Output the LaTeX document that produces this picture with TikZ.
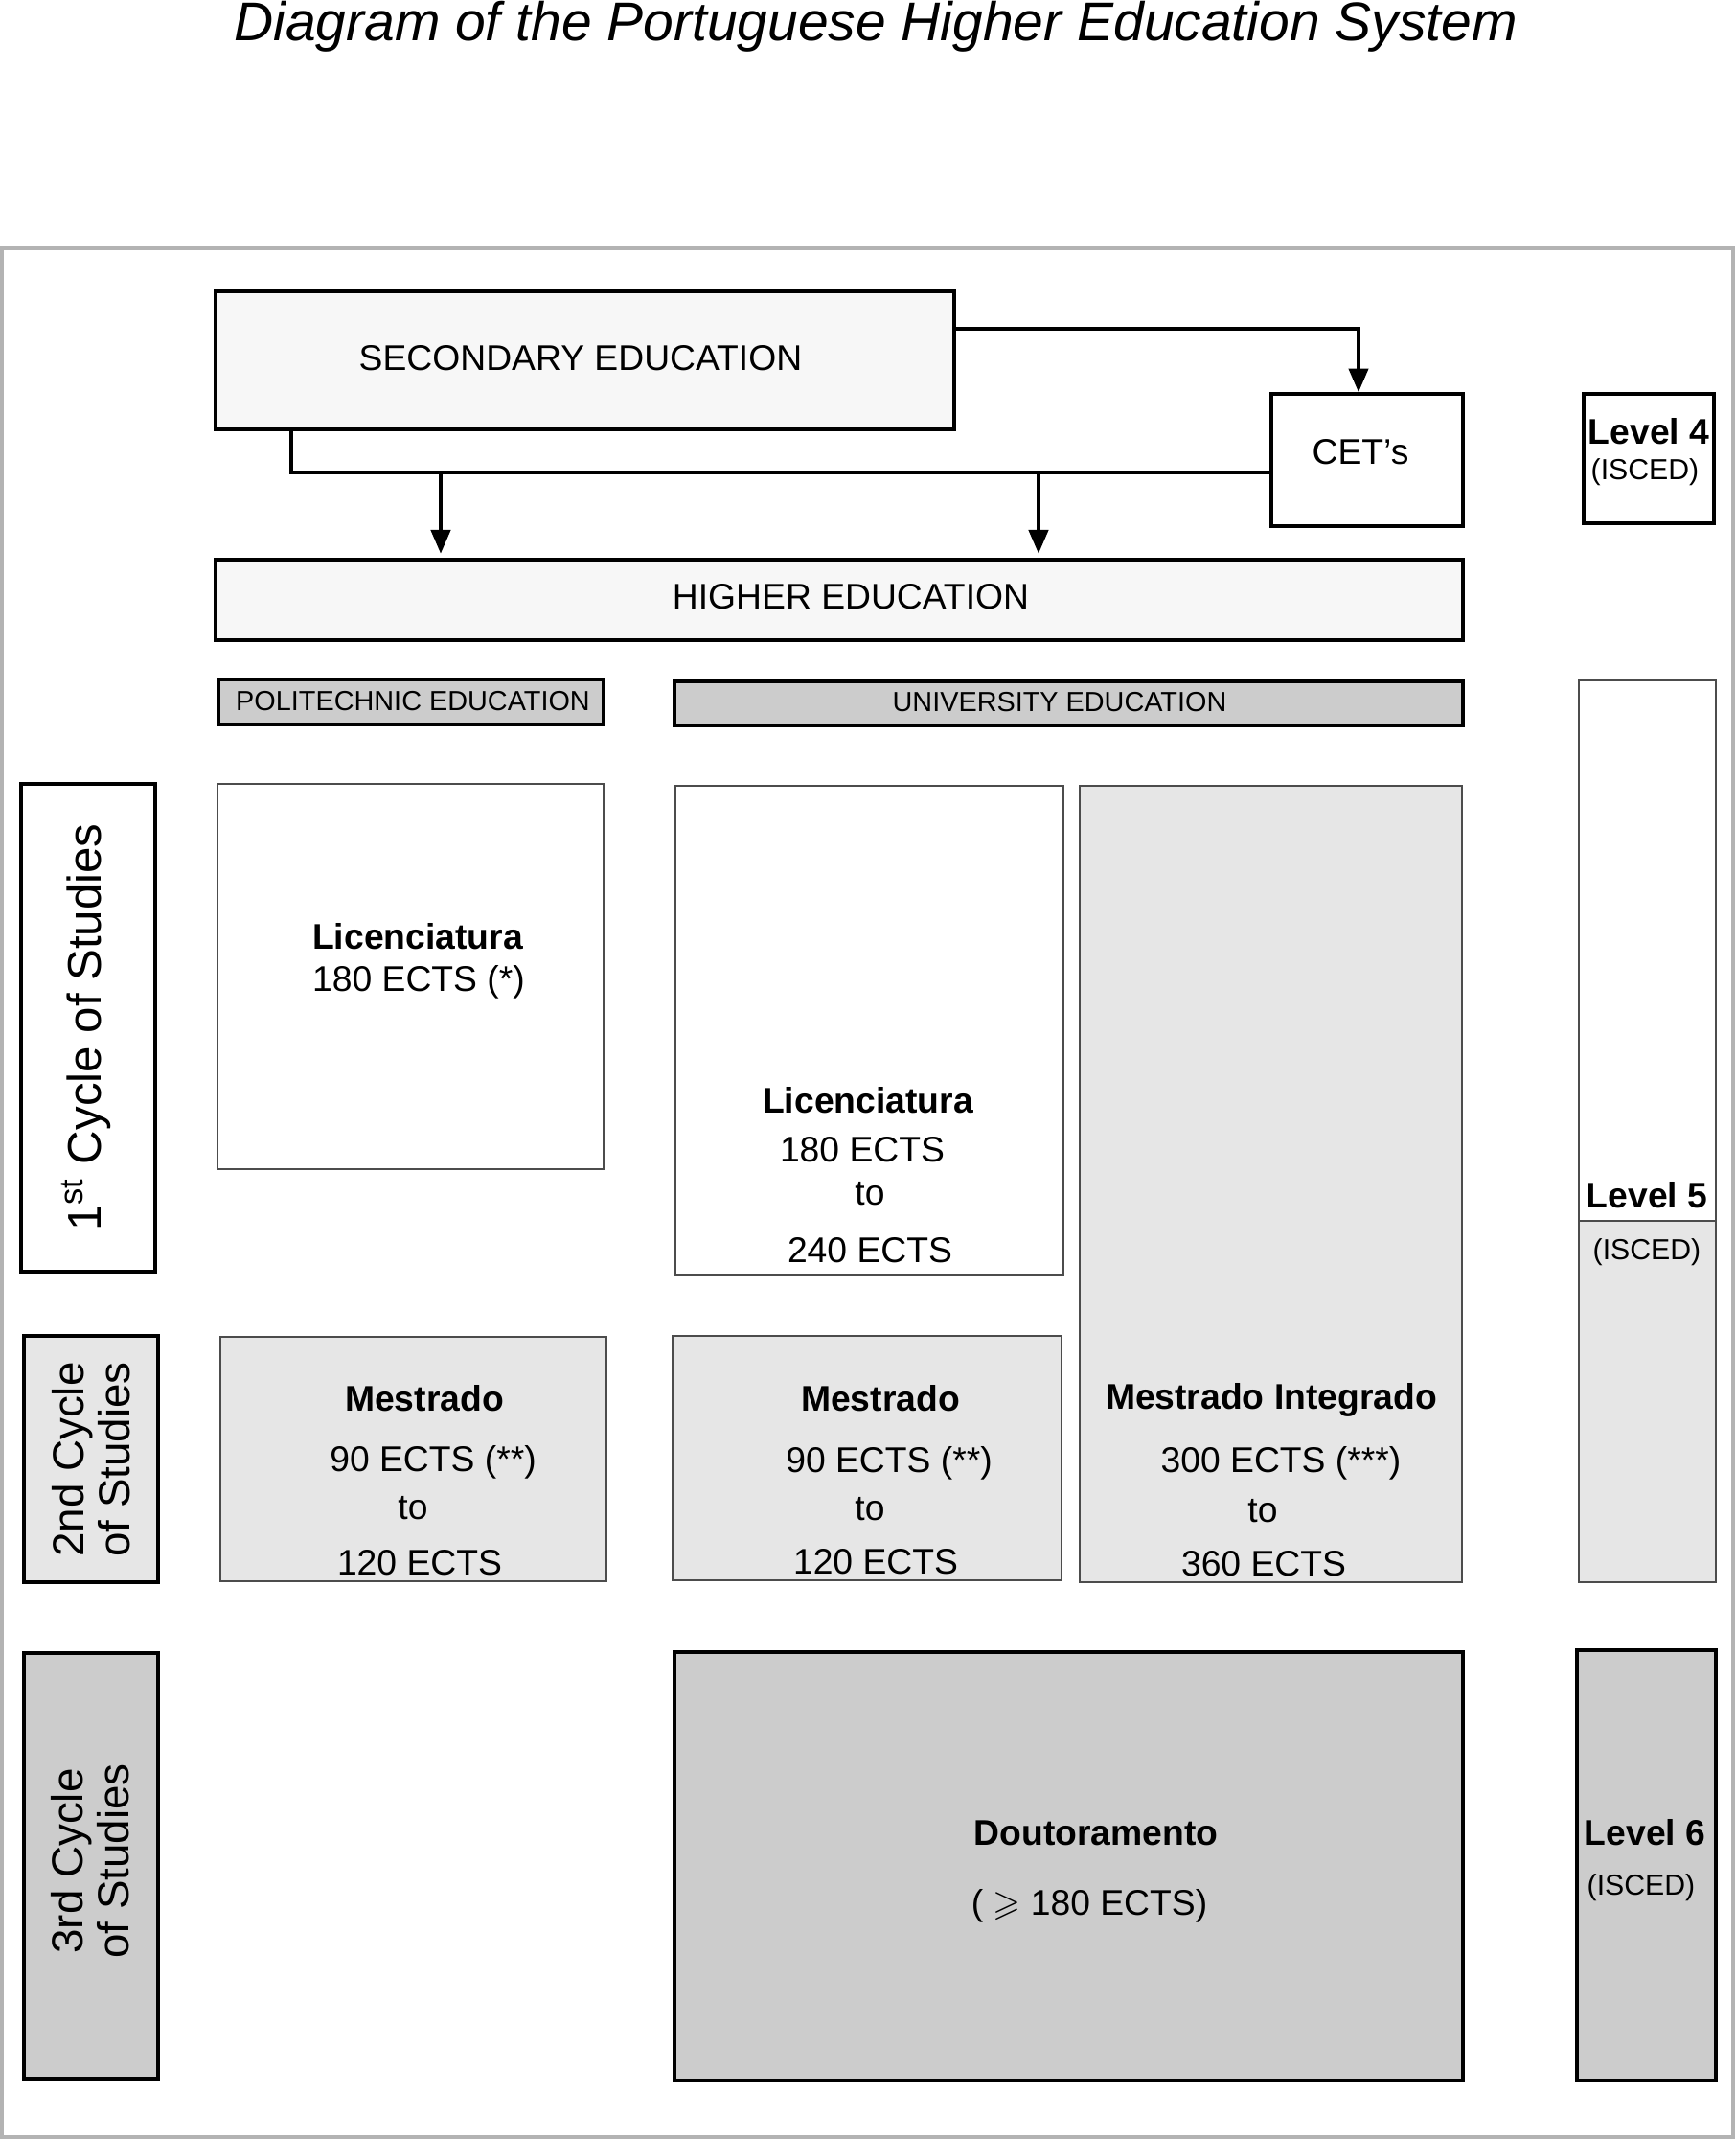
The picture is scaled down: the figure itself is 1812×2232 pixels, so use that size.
\documentclass[tikz,border=0pt]{standalone}
\usepackage{fontspec}
\setmainfont{Liberation Sans}
\usepackage{amssymb}
\usetikzlibrary{arrows.meta,fit}
\definecolor{lg}{HTML}{F7F7F7}
\definecolor{mg}{HTML}{E6E6E6}
\definecolor{dg}{HTML}{CCCCCC}
\definecolor{fr}{HTML}{B3B3B3}
\begin{document}
\begin{tikzpicture}[x=0.01cm,y=-0.01cm,
  thickbox/.style={draw=black, line width=1.05pt, inner sep=0pt},
  thinbox/.style={draw=black!70, line width=0.4pt, inner sep=0pt},
  lbl/.style={inner sep=0pt, font=\fontsize{10.6}{12.7}\selectfont},
  blbl/.style={inner sep=0pt, font=\fontsize{10.6}{12.7}\selectfont\bfseries},
  slbl/.style={inner sep=0pt, font=\fontsize{8.2}{9.8}\selectfont},
  isced/.style={inner sep=0pt, font=\fontsize{8.6}{10}\selectfont},
  cyc/.style={inner sep=0pt, rotate=90, align=center, font=\fontsize{13}{13.8}\selectfont},
  conn/.style={line width=0.9pt},
  arr/.style={line width=0.9pt, -{Triangle[length=7pt,width=5.8pt]}}
]
\useasboundingbox (0,0) rectangle (1812,2232);
% outer frame
\draw[fr, line width=1.15pt] (2,259) rectangle (1809,2230);
% title
\node[anchor=base, inner sep=0pt, font=\fontsize{16.2}{19}\selectfont\itshape] (title) at (914,42)
  {Diagram of the Portuguese Higher Education System};

% top boxes
\node[thickbox, fill=lg, fit={(225,304)(996,448)}] (sec) {};
\node[thickbox, fill=white, fit={(1327,411)(1527,549)}] (cet) {};
\node[thickbox, fill=lg, fit={(225,584)(1527,668)}] (he) {};
\node[thickbox, fill=dg, fit={(228,709)(630,756)}] (poly) {};
\node[thickbox, fill=dg, fit={(704,711)(1527,757)}] (univ) {};

% level column
\node[thickbox, fill=white, fit={(1653,411)(1789,546)}] (lv4) {};
\node[thinbox, fill=white, fit={(1648,710)(1791,1274)}] (lv5a) {};
\node[thinbox, fill=mg, fit={(1648,1274)(1791,1651)}] (lv5b) {};
\node[thickbox, fill=dg, fit={(1646,1722)(1791,2171)}] (lv6) {};

% cycle column
\node[thickbox, fill=white, fit={(22,818)(162,1327)}] (c1) {};
\node[thickbox, fill=mg, fit={(25,1394)(165,1651)}] (c2) {};
\node[thickbox, fill=dg, fit={(25,1725)(165,2169)}] (c3) {};

% programme boxes
\node[thinbox, fill=white, fit={(227,818)(630,1220)}] (plic) {};
\node[thinbox, fill=white, fit={(705,820)(1110,1330)}] (ulic) {};
\node[thinbox, fill=mg, fit={(1127,820)(1526,1651)}] (mi) {};
\node[thinbox, fill=mg, fit={(230,1395)(633,1650)}] (pmes) {};
\node[thinbox, fill=mg, fit={(702,1394)(1108,1649)}] (umes) {};
\node[thickbox, fill=dg, fit={(704,1724)(1527,2171)}] (doc) {};

% connectors
\coordinate (j1) at (1418,343);
\draw[arr] (sec.east |- j1) -- (j1) -- (cet.north -| j1);
\coordinate (b1) at (304,493);
\coordinate (t1) at (460,493);
\coordinate (t2) at (1084,493);
\draw[conn] (sec.south -| b1) -- (b1) -- (cet.west |- b1);
\draw[arr, shorten >=1.3pt] (t1) -- (he.north -| t1);
\draw[arr, shorten >=1.3pt] (t2) -- (he.north -| t2);

% labels top
\node[lbl] (secL) at (606,374) {SECONDARY EDUCATION};
\node[lbl] (cetL) at (1420,472) {CET’s};
\node[lbl] (heL) at (888,623) {HIGHER EDUCATION};
\node[slbl] (polyL) at (431,732) {POLITECHNIC EDUCATION};
\node[slbl] (univL) at (1106,733) {UNIVERSITY EDUCATION};

% level labels
\node[blbl] (lv4L) at (1721,450) {Level 4};
\node[isced] (lv4I) at (1717,493) {(ISCED)};
\node[blbl] (lv5L) at (1719,1247) {Level 5};
\node[isced] (lv5I) at (1719,1307) {(ISCED)};
\node[blbl] (lv6L) at (1717,1912) {Level 6};
\node[isced] (lv6I) at (1713,1970) {(ISCED)};

% cycle labels
\node[inner sep=0pt, rotate=90, font=\fontsize{14}{16}\selectfont] (c1L) at (90,1072)
  {1\textsuperscript{st} Cycle of Studies};
\node[cyc] (c2L) at (95,1523) {2nd Cycle\\of Studies};
\node[cyc] (c3L) at (94,1942) {3rd Cycle\\of Studies};

% polytechnic licenciatura
\node[blbl] (plicA) at (436,977) {Licenciatura};
\node[lbl] (plicB) at (437,1025) {180 ECTS (*)};
% university licenciatura
\node[blbl] (ulicA) at (906,1148) {Licenciatura};
\node[lbl] (ulicB) at (900,1200) {180 ECTS};
\node[lbl] (ulicC) at (908,1246) {to};
\node[lbl] (ulicD) at (908,1305) {240 ECTS};
% mestrado integrado
\node[blbl] (miA) at (1327,1461) {Mestrado Integrado};
\node[lbl] (miB) at (1337,1527) {300 ECTS (***)};
\node[lbl] (miC) at (1318,1577) {to};
\node[lbl] (miD) at (1319,1632) {360 ECTS};
% polytechnic mestrado
\node[blbl] (pmesA) at (443,1459) {Mestrado};
\node[lbl] (pmesB) at (452,1526) {90 ECTS (**)};
\node[lbl] (pmesC) at (431,1574) {to};
\node[lbl] (pmesD) at (438,1631) {120 ECTS};
% university mestrado
\node[blbl] (umesA) at (919,1459) {Mestrado};
\node[lbl] (umesB) at (928,1527) {90 ECTS (**)};
\node[lbl] (umesC) at (908,1575) {to};
\node[lbl] (umesD) at (914,1630) {120 ECTS};
% doutoramento
\node[blbl] (docA) at (1144,1913) {Doutoramento};
\node[lbl] (docB) at (1137,1989) {( $\geqslant$ 180 ECTS)};
\end{tikzpicture}
\end{document}
